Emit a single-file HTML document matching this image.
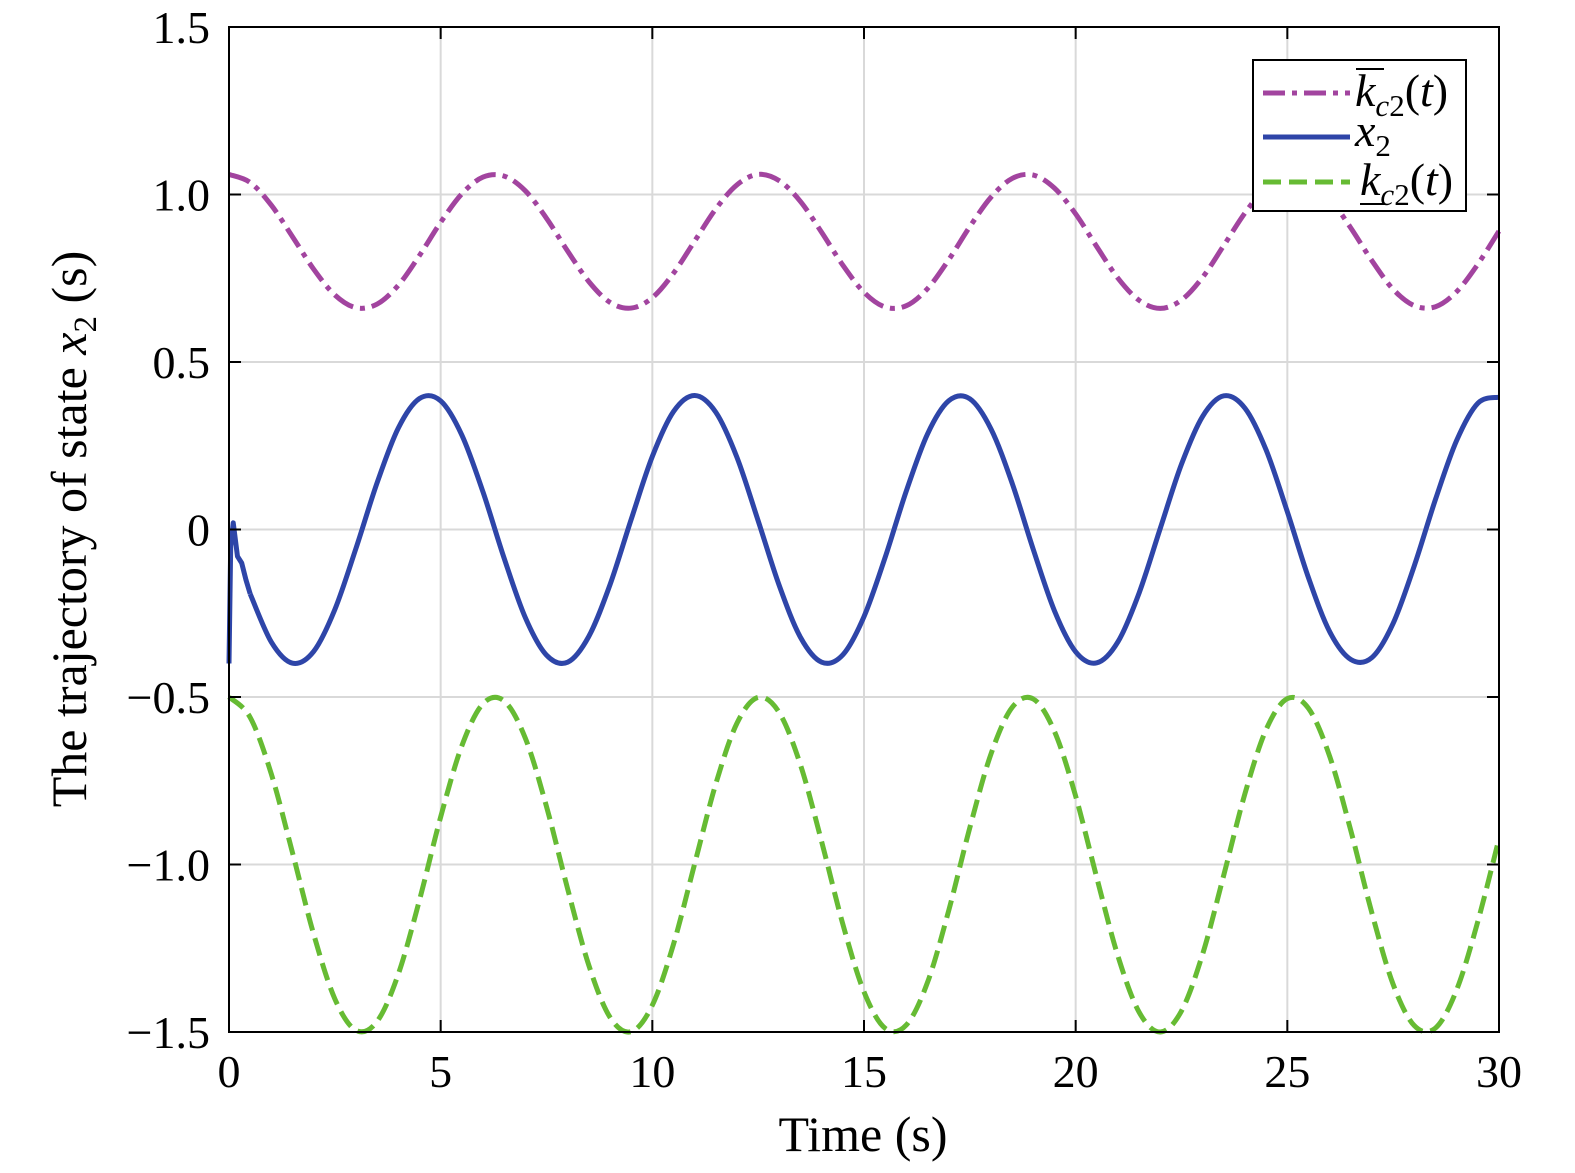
<!DOCTYPE html>
<html><head><meta charset="utf-8">
<style>
html,body{margin:0;padding:0;background:#fff;}
svg{display:block;font-family:"Liberation Serif",serif;}
</style></head>
<body>
<svg id="chart" width="1575" height="1173" viewBox="0 0 1575 1173" xmlns="http://www.w3.org/2000/svg">
<g id="grid"></g>
<g id="series"></g>
<rect x="229" y="27" width="1270" height="1005" fill="none" stroke="#000" stroke-width="2"/>
<g id="ticks"></g>
<text x="863" y="1151" font-size="50" text-anchor="middle">Time (s)</text>
<text transform="translate(86,529) rotate(-90)" font-size="50" text-anchor="middle">The trajectory of state <tspan font-style="italic">x</tspan><tspan font-size="33" dy="10">2</tspan><tspan dy="-10"> (s)</tspan></text>
<g>
<rect x="1253" y="60" width="213" height="151" fill="#fff" stroke="#000" stroke-width="2"/>
<line x1="1263" y1="93" x2="1350" y2="93" stroke="#A2449F" stroke-width="5" stroke-dasharray="22,7,5,7"/>
<text x="1355" y="106" font-size="46"><tspan font-style="italic">k</tspan><tspan font-size="31" font-style="italic" dy="10">c</tspan><tspan font-size="31">2</tspan><tspan dy="-10">(</tspan><tspan font-style="italic">t</tspan>)</text>
<line x1="1356" y1="69" x2="1384" y2="69" stroke="#000" stroke-width="2"/>
<line x1="1263" y1="137" x2="1350" y2="137" stroke="#2E45A8" stroke-width="5"/>
<text x="1355" y="146" font-size="46"><tspan font-style="italic">x</tspan><tspan font-size="31" dy="10">2</tspan></text>
<line x1="1263" y1="182" x2="1350" y2="182" stroke="#66BB33" stroke-width="5" stroke-dasharray="18,8"/>
<text x="1360" y="195" font-size="46"><tspan font-style="italic">k</tspan><tspan font-size="31" font-style="italic" dy="10">c</tspan><tspan font-size="31">2</tspan><tspan dy="-10">(</tspan><tspan font-style="italic">t</tspan>)</text>
<line x1="1360" y1="204" x2="1385" y2="204" stroke="#000" stroke-width="2"/>
</g>
</svg>
<script>
const xTicks = [0,5,10,15,20,25,30];
const xTickLabels = ["0","5","10","15","20","25","30"];
const yTicks = [1.5,1.0,0.5,0,-0.5,-1.0,-1.5];
const yTickLabels = ["1.5","1.0","0.5","0","\u22120.5","\u22121.0","\u22121.5"];
const tStep = 0.5;
const upperVals = [1.06,1.036,0.968,0.874,0.777,0.700,0.662,0.673,0.729,0.818,0.917,1.002,1.052,1.055,1.011,0.929,0.831,0.740,0.678,0.661,0.692,0.765,0.861,0.957,1.029,1.060,1.041,0.979,0.887,0.789,0.708,0.664,0.668,0.719,0.805,0.904,0.992,1.048,1.058,1.019,0.942,0.844,0.750,0.684,0.660,0.685,0.753,0.848,0.945,1.021,1.058,1.047,0.989,0.900,0.802,0.717,0.668,0.665,0.710,0.792,0.891];
const lowerVals = [-0.5,-0.561,-0.730,-0.965,-1.208,-1.401,-1.495,-1.468,-1.327,-1.106,-0.858,-0.646,-0.520,-0.512,-0.623,-0.827,-1.073,-1.301,-1.456,-1.499,-1.420,-1.238,-0.998,-0.759,-0.578,-0.501,-0.547,-0.703,-0.932,-1.178,-1.380,-1.489,-1.479,-1.352,-1.138,-0.890,-0.670,-0.531,-0.506,-0.603,-0.796,-1.040,-1.274,-1.441,-1.500,-1.437,-1.267,-1.031,-0.788,-0.597,-0.505,-0.534,-0.677,-0.899,-1.146,-1.358,-1.481,-1.488,-1.374,-1.170,-0.923];
const x2Times = [0,0.04,0.1,0.2,0.3,0.4];
const x2Transient = [-0.4,-0.05,0.02,-0.08,-0.1,-0.15];
const x2Vals = [-0.192,-0.336,-0.399,-0.364,-0.239,-0.056,0.140,0.303,0.391,0.384,0.282,0.112,-0.086,-0.263,-0.375,-0.396,-0.319,-0.165,0.030,0.218,0.352,0.400,0.350,0.215,0.026,-0.168,-0.322,-0.396,-0.374,-0.260,-0.083,0.115,0.285,0.384,0.390,0.300,0.138,-0.060,-0.243,-0.365,-0.398,-0.335,-0.189,0.004,0.195,0.338,0.399,0.362,0.237,0.053,-0.144,-0.305,-0.388,-0.382,-0.280,-0.108,0.090,0.266,0.377,0.395];

const X0=229,X1=1499,Y0=1032,Y1=27;
function sx(t){return X0+(t-0)/(30-0)*(X1-X0);}
function sy(v){return Y0-(v+1.5)/3*(Y0-Y1);}
const NS="http://www.w3.org/2000/svg";
function mk(tag,attrs,parent){const e=document.createElementNS(NS,tag);for(const k in attrs)e.setAttribute(k,attrs[k]);parent.appendChild(e);return e;}
const grid=document.getElementById('grid'),ticks=document.getElementById('ticks'),series=document.getElementById('series');
xTicks.forEach((t,i)=>{
  const g=mk('line',{x1:sx(t),x2:sx(t),y1:Y1,y2:Y0,stroke:'#d9d9d9','stroke-width':2},grid);
  
  
  const a=mk('line',{x1:sx(t),x2:sx(t),y1:Y0,y2:Y0-12,stroke:'#000','stroke-width':2},ticks);
  
  
  const b=mk('line',{x1:sx(t),x2:sx(t),y1:Y1,y2:Y1+12,stroke:'#000','stroke-width':2},ticks);
  
  
  const l=mk('text',{x:sx(t),y:1087,'font-size':46,'text-anchor':'middle'},ticks);
  l.textContent=xTickLabels[i];
  
  
});
yTicks.forEach((v,i)=>{
  const g=mk('line',{x1:X0,x2:X1,y1:sy(v),y2:sy(v),stroke:'#d9d9d9','stroke-width':2},grid);
  
  
  const a=mk('line',{x1:X0,x2:X0+12,y1:sy(v),y2:sy(v),stroke:'#000','stroke-width':2},ticks);
  
  
  const b=mk('line',{x1:X1,x2:X1-12,y1:sy(v),y2:sy(v),stroke:'#000','stroke-width':2},ticks);
  
  
  const l=mk('text',{x:210,y:sy(v)+16,'font-size':46,'text-anchor':'end'},ticks);
  l.textContent=yTickLabels[i];
  
  
});
function smoothPath(pts){
  let d='M'+pts[0][0].toFixed(2)+','+pts[0][1].toFixed(2);
  for(let i=0;i<pts.length-1;i++){
    const p0=pts[Math.max(0,i-1)],p1=pts[i],p2=pts[i+1],p3=pts[Math.min(pts.length-1,i+2)];
    const c1=[p1[0]+(p2[0]-p0[0])/6,p1[1]+(p2[1]-p0[1])/6];
    const c2=[p2[0]-(p3[0]-p1[0])/6,p2[1]-(p3[1]-p1[1])/6];
    d+='C'+c1[0].toFixed(2)+','+c1[1].toFixed(2)+' '+c2[0].toFixed(2)+','+c2[1].toFixed(2)+' '+p2[0].toFixed(2)+','+p2[1].toFixed(2);
  }
  return d;
}
const upPts=upperVals.map((v,i)=>[sx(i*tStep),sy(v)]);
const loPts=lowerVals.map((v,i)=>[sx(i*tStep),sy(v)]);
const trPts=x2Transient.map((v,i)=>[sx(x2Times[i]),sy(v)]);
const x2Pts=x2Vals.map((v,i)=>[sx((i+1)*tStep),sy(v)]);
const pu=mk('path',{d:smoothPath(upPts),fill:'none',stroke:'#A2449F','stroke-width':5,'stroke-dasharray':'22,7,5,7'},series);


const pl=mk('path',{d:smoothPath(loPts),fill:'none',stroke:'#66BB33','stroke-width':5,'stroke-dasharray':'18,8'},series);


const ptr=mk('path',{d:'M'+trPts.map(p=>p[0].toFixed(2)+','+p[1].toFixed(2)).join('L')+'L'+x2Pts[0][0].toFixed(2)+','+x2Pts[0][1].toFixed(2),fill:'none',stroke:'#2E45A8','stroke-width':5,'stroke-linejoin':'round'},series);


const px=mk('path',{d:smoothPath(x2Pts),fill:'none',stroke:'#2E45A8','stroke-width':5},series);


</script>
</body></html>
